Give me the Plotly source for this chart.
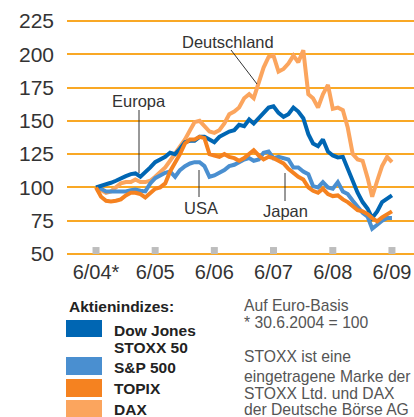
import pandas as pd
import plotly.graph_objects as go

# Monatswerte 6/2004 - 6/2009, Euro-Basis, 30.6.2004 = 100
dates = pd.date_range("2004-06-30", periods=61, freq="ME")

stoxx50 = [100, 101, 102.5, 103.5, 105, 107, 108.5, 110, 110.5, 108, 111, 115, 119,
           121, 123, 126, 125, 129, 134, 135, 135, 138, 138, 136, 134,
           138, 140, 142, 143, 147, 146, 151, 148, 152, 156, 160, 161,
           156, 153, 155, 160, 157, 152, 140, 133, 131, 136, 127, 124,
           122.5, 123, 114, 104, 96, 89, 84, 77, 82, 89, 92, 94]
sp500 = [100, 99, 97, 97, 96.5, 97, 97, 98, 98.5, 97.5, 97, 103, 107,
         109, 111, 112, 108, 113, 116, 118, 119, 119, 116, 108, 109,
         111, 113, 116, 117, 119, 121, 122, 120, 121, 126, 127, 122,
         123, 122, 121, 115, 115, 112, 110, 101, 100, 104, 100, 99,
         104, 97, 95, 90, 86, 81, 78, 69, 72, 75, 77, 77]
topix = [100, 93, 90, 89.5, 90, 91, 94, 96, 96, 95, 92.5, 96, 99,
         100, 103, 112, 118, 125, 133, 136, 136, 138, 137, 125, 124,
         123, 125, 123, 122, 120, 122, 125, 128, 124, 121, 123, 122,
         120, 118, 114, 111, 108, 106, 100, 97.5, 96, 99, 95, 93.5,
         94, 91, 89, 86, 83, 82, 80, 77, 74.5, 77.5, 80, 82]
dax = [100, 98, 96, 97, 100, 103, 104, 104, 106, 104, 104, 105, 108,
       112, 115, 120, 125, 130, 136, 143, 149, 150, 146, 142, 141,
       143, 148, 155, 157, 160, 167, 170, 167, 178, 190, 198, 199,
       187, 189, 193, 199, 194, 203, 170, 167, 160, 170, 177, 159,
       160, 158, 145, 125, 121, 120, 107, 93, 105, 116, 123, 119]

tick_dates = ["2004-06-30", "2005-06-30", "2006-06-30", "2007-06-30", "2008-06-30", "2009-06-30"]
tick_text = ["6/04*", "6/05", "6/06", "6/07", "6/08", "6/09"]

# Reihenfolge = Zeichenreihenfolge (unten -> oben)
series = [
    ("DAX", dax, "#FBA55E"),
    ("S&P 500", sp500, "#4A8FD0"),
    ("Dow Jones STOXX 50", stoxx50, "#0066B3"),
    ("TOPIX", topix, "#F58220"),
]

W, H = 414, 417
ML, MR, MT, MB = 67, 0, 17, H - 258
FONT = "Liberation Sans, Arial, sans-serif"
TXT = "#333333"


def px(x, y):
    """Pixel -> Paper-Koordinaten"""
    return (x - ML) / (W - ML - MR), (H - MB - y) / (H - MT - MB)


fig = go.Figure()

# graue Markierungen an der Zeitachse
fig.add_trace(go.Scatter(
    x=tick_dates, y=[52.6] * len(tick_dates), mode="markers",
    marker=dict(symbol="square", size=7, color="#BDBDBD"),
    hoverinfo="skip", showlegend=False, cliponaxis=False,
))

for name, vals, color in series:
    fig.add_trace(go.Scatter(
        x=dates, y=vals, mode="lines", name=name,
        line=dict(color=color, width=4), showlegend=False,
    ))

annotations = []
shapes = []


def label(text, x, y, size, color, bold=False, anchor="center"):
    ax, ay = px(x, y)
    annotations.append(dict(x=ax, y=ay, xref="paper", yref="paper",
                            text="<b>" + text + "</b>" if bold else text,
                            showarrow=False, xanchor=anchor, yanchor="middle",
                            font=dict(size=size, color=color, family=FONT)))


# Beschriftungen im Diagramm
chart_labels = [
    ("Deutschland", 228, 42, [(231, 50), (257, 84)]),
    ("Europa", 139, 101, [(139, 110), (139, 173)]),
    ("USA", 201, 208, [(199, 170), (199, 197)]),
    ("Japan", 285, 211, [(285, 173), (285, 201)]),
]
for text, cx, cy, pts in chart_labels:
    label(text, cx, cy, 16.5, TXT)
    (x0, y0), (x1, y1) = pts
    p0, p1 = px(x0, y0), px(x1, y1)
    shapes.append(dict(type="line", xref="paper", yref="paper", x0=p0[0], y0=p0[1],
                       x1=p1[0], y1=p1[1], line=dict(color="#333333", width=1)))

# Legende
label("Aktienindizes:", 67, 306, 15.5, "#222222", bold=True, anchor="left")

legend_boxes = [("#0066B3", 320, 337), ("#4A8FD0", 357, 375), ("#F58220", 379, 397), ("#FBA55E", 400, 417)]
for color, y0, y1 in legend_boxes:
    a, b = px(66, y0)
    c, d = px(102, y1)
    shapes.append(dict(type="rect", xref="paper", yref="paper", x0=a, x1=c, y0=d, y1=b,
                       fillcolor=color, line=dict(width=0)))

legend_text = [("Dow Jones", 330), ("STOXX 50", 347), ("S&P 500", 367), ("TOPIX", 389), ("DAX", 409)]
for text, y in legend_text:
    label(text, 112, y, 15.5, "#222222", bold=True, anchor="left")

notes = [("Auf Euro-Basis", 305), ("* 30.6.2004 = 100", 322), ("STOXX ist eine", 357),
         ("eingetragene Marke der", 376), ("STOXX Ltd. und DAX", 393), ("der Deutsche Börse AG", 409)]
for text, y in notes:
    label(text, 242, y, 15.7, "#555555", anchor="left")

fig.update_layout(
    width=W, height=H,
    margin=dict(l=ML, r=MR, t=MT, b=MB),
    paper_bgcolor="white", plot_bgcolor="white",
    font=dict(family=FONT, color=TXT),
    annotations=annotations, shapes=shapes,
    xaxis=dict(
        type="date", range=["2004-01-03", "2009-11-13"],
        tickvals=tick_dates, ticktext=tick_text, automargin=False,
        showgrid=False, zeroline=False, showline=False, ticks="",
        tickfont=dict(size=20, color=TXT),
    ),
    yaxis=dict(
        range=[47, 228], tickvals=[50, 75, 100, 125, 150, 175, 200, 225],
        showgrid=True, gridcolor="#F9A825", gridwidth=2, automargin=False,
        zeroline=False, showline=False, ticks="",
        tickfont=dict(size=21, color=TXT), ticklabelstandoff=12,
    ),
)

# Seitenrand entfernen, damit die Figur genau das Fenster füllt
fig.write_html("out.html", config={"displayModeBar": False},
               post_script="document.body.style.margin='0';document.body.style.overflow='hidden';")
